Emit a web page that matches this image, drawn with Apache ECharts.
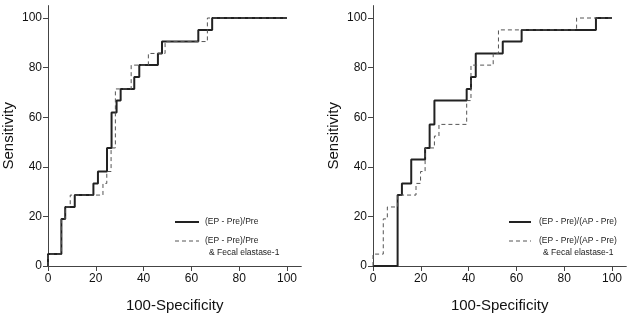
<!DOCTYPE html>
<html>
<head>
<meta charset="utf-8">
<script src="https://cdn.jsdelivr.net/npm/echarts@6/dist/echarts.min.js"></script>
<style>
  html, body { margin: 0; padding: 0; background: #fff; }
  #chart { width: 631px; height: 318px; }
</style>
</head>
<body>
<div id="chart"></div>
<script>
// ROC curves, 100-Specificity (x) vs Sensitivity (y); each point = where the step rises
var tickValues = [0, 20, 40, 60, 80, 100];

var leftSolidX = [0, 0, 5.6, 7.2, 11.2, 19.0, 20.9, 24.7, 26.6, 28.7, 30.4, 36.1, 38.2, 46.0, 47.7, 62.9, 68.7, 100];
var leftSolidY = [0, 4.8, 19.0, 23.8, 28.6, 33.3, 38.1, 47.6, 61.9, 66.7, 71.4, 76.2, 81.0, 85.7, 90.5, 95.2, 100, 100];

var leftDashX = [0, 0, 5.6, 7.2, 9.3, 23.0, 24.6, 26.4, 28.2, 34.8, 42.0, 49.0, 66.7, 100];
var leftDashY = [0, 4.8, 19.0, 23.8, 28.6, 33.3, 38.1, 47.6, 71.4, 81.0, 85.7, 90.5, 100, 100];

var rightSolidX = [0, 10.3, 12.1, 16.0, 21.8, 23.7, 25.7, 39.2, 41.0, 43.0, 54.3, 62.2, 93.3, 100];
var rightSolidY = [0, 28.6, 33.3, 42.9, 47.6, 57.1, 66.7, 71.4, 76.2, 85.7, 90.5, 95.2, 100, 100];

var rightDashX = [0, 0, 4.3, 6.0, 10.3, 18.0, 19.9, 21.8, 25.7, 27.6, 39.2, 41.0, 50.3, 52.5, 85.2, 100];
var rightDashY = [0, 4.8, 19.0, 23.8, 28.6, 33.3, 38.1, 47.6, 52.4, 57.1, 66.7, 81.0, 85.7, 95.2, 100, 100];

function pairs(xs, ys) {
    var out = [];
    for (var i = 0; i < xs.length; i++) out.push([xs[i], ys[i]]);
    return out;
}

var axisFont = { color: '#111', fontSize: 12, fontFamily: 'Liberation Sans, Arial, sans-serif' };
var axisLine = { show: true, lineStyle: { color: '#444', width: 1 } };

function xAx(idx) {
    return {
        gridIndex: idx, type: 'value', min: 0, max: 106,
        name: '100-Specificity', nameLocation: 'middle', nameGap: 32,
        nameTextStyle: { color: '#111', fontSize: 15, fontFamily: 'Liberation Sans, Arial, sans-serif' },
        axisLine: axisLine,
        axisTick: { show: true, length: 5, customValues: tickValues, lineStyle: { color: '#444' } },
        axisLabel: Object.assign({ margin: 7, customValues: tickValues }, axisFont),
        splitLine: { show: false }
    };
}
function yAx(idx) {
    return {
        gridIndex: idx, type: 'value', min: 0, max: 105,
        name: 'Sensitivity', nameLocation: 'middle', nameGap: 32,
        nameTextStyle: { color: '#111', fontSize: 15, fontFamily: 'Liberation Sans, Arial, sans-serif' },
        axisLine: axisLine,
        axisTick: { show: true, length: 5, customValues: tickValues, lineStyle: { color: '#444' } },
        axisLabel: Object.assign({ margin: 6, customValues: tickValues }, axisFont),
        splitLine: { show: false }
    };
}
function curve(idx, xs, ys, dashed) {
    return {
        type: 'line', xAxisIndex: idx, yAxisIndex: idx,
        data: pairs(xs, ys), step: 'end', showSymbol: false, symbol: 'none',
        silent: true, animation: false,
        lineStyle: dashed ? { color: '#555', width: 1, type: [4, 3] } : { color: '#222', width: 2 },
        z: dashed ? 3 : 2
    };
}

var legFont = { fill: '#222', fontSize: 8.5, fontFamily: 'Liberation Sans, Arial, sans-serif' };
function legendGraphic(x0, x1, tx, t1, t2, t2x) {
    return [
        { type: 'line', shape: { x1: x0, y1: 222, x2: x1, y2: 222 }, style: { stroke: '#222', lineWidth: 2 } },
        { type: 'text', x: tx, y: 222, style: Object.assign({ text: t1, verticalAlign: 'middle' }, legFont) },
        { type: 'line', shape: { x1: x0, y1: 241, x2: x1, y2: 241 }, style: { stroke: '#555', lineWidth: 1, lineDash: [4, 3] } },
        { type: 'text', x: tx, y: 241, style: Object.assign({ text: t1, verticalAlign: 'middle' }, legFont) },
        { type: 'text', x: t2x, y: 253, style: Object.assign({ text: t2, verticalAlign: 'middle' }, legFont) }
    ];
}

var chart = echarts.init(document.getElementById('chart'));
chart.setOption({
    animation: false,
    grid: [
        { left: 48, top: 5.6, width: 253.3, height: 260.4 },
        { left: 373, top: 5.6, width: 253.3, height: 260.4 }
    ],
    xAxis: [xAx(0), xAx(1)],
    yAxis: [yAx(0), yAx(1)],
    series: [
        curve(0, leftSolidX, leftSolidY, false),
        curve(0, leftDashX, leftDashY, true),
        curve(1, rightSolidX, rightSolidY, false),
        curve(1, rightDashX, rightDashY, true)
    ],
    graphic: legendGraphic(175, 199, 205, '(EP - Pre)/Pre', '& Fecal elastase-1', 209)
        .concat(legendGraphic(509, 531, 539, '(EP - Pre)/(AP - Pre)', '& Fecal elastase-1', 543))
});
</script>
</body>
</html>
